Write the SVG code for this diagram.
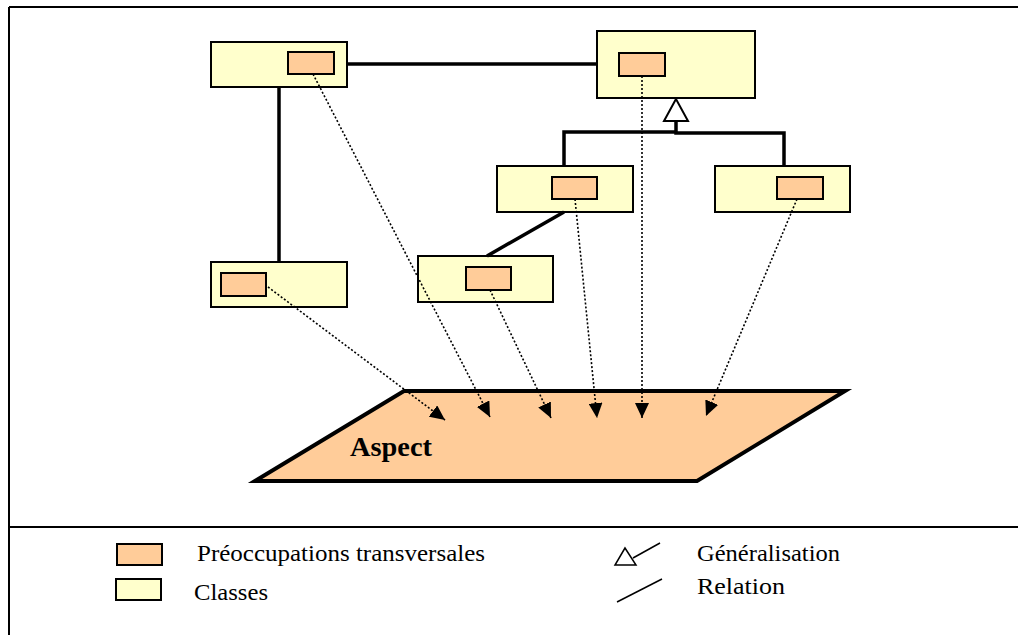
<svg xmlns="http://www.w3.org/2000/svg" width="1018" height="635" viewBox="0 0 1018 635">
  <style>
    .cls { fill: #FFFFCC; stroke: #000; stroke-width: 2; }
    .cc { fill: #FFCC99; stroke: #000; stroke-width: 2; }
    .rel { fill: none; stroke: #000; stroke-width: 3.5; }
    .dot { fill: none; stroke: #000; stroke-width: 1.6; stroke-dasharray: 2 2; }
    .frame { fill: none; stroke: #000; stroke-width: 2; }
    .lbl { font-family: "Liberation Serif", "Times New Roman", serif; font-size: 24px; fill: #000; }
    .asp { font-family: "Liberation Serif", "Times New Roman", serif; font-size: 28px; font-weight: bold; fill: #000; }
  </style>
  <defs>
    <marker id="arrow" markerUnits="userSpaceOnUse" markerWidth="16" markerHeight="14" refX="15" refY="7" orient="auto">
      <path d="M0,0 L15,7 L0,14 Z" fill="#000"/>
    </marker>
  </defs>

  <rect width="1018" height="635" fill="#fff"/>

  <!-- frame -->
  <g id="frame">
    <path class="frame" d="M9,7 H1018 M9,7 V635 M9,527 H1018"/>
  </g>

  <!-- aspect plane -->
  <g id="aspect">
    <polygon points="404,391 845,391 697,481 255,481" fill="#FFCC99" stroke="#000" stroke-width="4" stroke-linejoin="miter"/>
    <text class="asp" x="350" y="456" textLength="82" lengthAdjust="spacingAndGlyphs">Aspect</text>
  </g>

  <!-- classes -->
  <g id="classA">
    <rect class="cls" x="211" y="42" width="136" height="45"/>
    <rect class="cc" x="288" y="52" width="46" height="22"/>
  </g>
  <g id="classB">
    <rect class="cls" x="597" y="31" width="158" height="67"/>
    <rect class="cc" x="619" y="53" width="46" height="23"/>
  </g>
  <g id="classD">
    <rect class="cls" x="497" y="166" width="136" height="46"/>
    <rect class="cc" x="552" y="177" width="45" height="22"/>
  </g>
  <g id="classE">
    <rect class="cls" x="715" y="166" width="135" height="46"/>
    <rect class="cc" x="777" y="177" width="46" height="22"/>
  </g>
  <g id="classC">
    <rect class="cls" x="211" y="262" width="136" height="45"/>
    <rect class="cc" x="221" y="273" width="45" height="23"/>
  </g>
  <g id="classF">
    <rect class="cls" x="418" y="256" width="135" height="46"/>
    <rect class="cc" x="466" y="267" width="45" height="23"/>
  </g>

  <!-- relations, generalisation and crosscutting links -->
  <g id="connectors">
    <line class="rel" x1="347" y1="64" x2="597" y2="64"/>
    <line class="rel" x1="279" y1="87" x2="279" y2="262"/>
    <line class="rel" x1="564" y1="212" x2="487" y2="256"/>
    <path class="rel" d="M564,166 V132 H676" stroke-width="3"/>
    <path class="rel" d="M676,121 V133 H784 V166" stroke-width="5"/>
    <polygon points="676,99 664,121 688,121" fill="#fff" stroke="#000" stroke-width="2"/>

    <line class="dot" x1="313" y1="74" x2="490" y2="417" marker-end="url(#arrow)"/>
    <line class="dot" x1="642" y1="76" x2="642" y2="418" marker-end="url(#arrow)"/>
    <line class="dot" x1="268" y1="287" x2="445" y2="420" marker-end="url(#arrow)"/>
    <line class="dot" x1="490" y1="290" x2="551" y2="418" marker-end="url(#arrow)"/>
    <line class="dot" x1="575" y1="199" x2="597" y2="418" marker-end="url(#arrow)"/>
    <line class="dot" x1="797" y1="199" x2="706" y2="416" marker-end="url(#arrow)"/>
  </g>

  <!-- legend -->
  <g id="legend">
    <rect class="cc" x="117" y="544" width="45" height="21"/>
    <rect class="cls" x="116" y="579" width="45" height="21"/>
    <text class="lbl" x="197" y="561" textLength="288" lengthAdjust="spacingAndGlyphs">Préoccupations transversales</text>
    <text class="lbl" x="194" y="600" textLength="74" lengthAdjust="spacingAndGlyphs">Classes</text>
    <polygon points="625,548 615,565 636,565" fill="#fff" stroke="#000" stroke-width="1.5"/>
    <line x1="633" y1="558" x2="660" y2="543" stroke="#000" stroke-width="1.5"/>
    <line x1="617" y1="602" x2="662" y2="579" stroke="#000" stroke-width="1.5"/>
    <text class="lbl" x="697" y="561" textLength="143" lengthAdjust="spacingAndGlyphs">Généralisation</text>
    <text class="lbl" x="697" y="594" textLength="88" lengthAdjust="spacingAndGlyphs">Relation</text>
  </g>
</svg>
